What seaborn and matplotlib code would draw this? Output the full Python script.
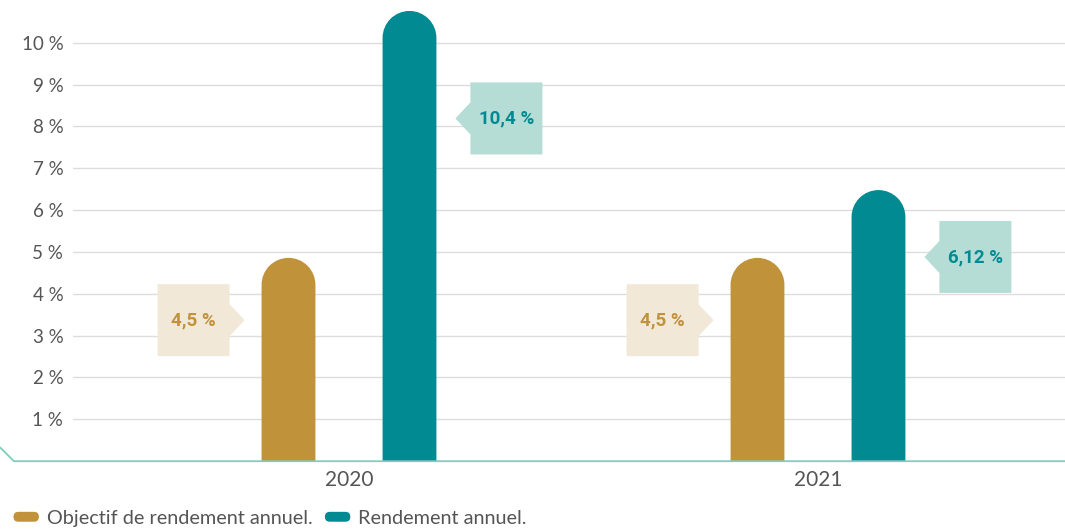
import matplotlib
matplotlib.use("Agg")
import matplotlib.pyplot as plt
import matplotlib.transforms as mtransforms
from matplotlib.patches import FancyBboxPatch, Polygon, Patch, PathPatch
from matplotlib.path import Path
from matplotlib.legend_handler import HandlerPatch
import numpy as np
import pandas as pd
import seaborn as sns

years = ["2020", "2021"]
objectif = [4.5, 4.5]
rendement = [10.4, 6.12]
series = ["Objectif de rendement annuel.", "Rendement annuel."]
labels_obj = ["4,5 %", "4,5 %"]
labels_rend = ["10,4 %", "6,12 %"]
yticks = [1, 2, 3, 4, 5, 6, 7, 8, 9, 10]
ytick_labels = [f"{t} %" for t in yticks]

# where the callout boxes sit (data y of box centre)
label_y_obj = [3.37, 3.37]
label_y_rend = [8.19, 4.88]

gold = "#C09239"
teal = "#028A93"
gold_light = "#F2E8D8"
teal_light = "#B5DDD5"
base_col = "#82CBBF"
txt_col = "#555555"

df = pd.DataFrame({
    "Année": years * 2,
    "Série": [series[0]] * len(years) + [series[1]] * len(years),
    "Valeur": objectif + rendement,
})

sns.set_style("white")
plt.rcParams["font.family"] = ["Lato", "DejaVu Sans"]

fig = plt.figure(figsize=(10.65, 5.30), dpi=100)
ax = fig.add_axes([73 / 1065, 68.8 / 530, 992 / 1065, 461.2 / 530])
sns.barplot(data=df, x="Année", y="Valeur", hue="Série", palette=[gold, teal],
            width=0.516, gap=0.555, saturation=1, legend=False, ax=ax)

ax.set_xlim(-0.5885, 1.5267)
ax.set_ylim(0, 11.02)
ax.set_yticks(yticks)
ax.set_yticklabels(ytick_labels)
ax.set_xlabel("")
ax.set_ylabel("")
ax.tick_params(axis="both", length=0, colors=txt_col)
ax.tick_params(axis="y", pad=7, labelsize=13.5)
ax.tick_params(axis="x", pad=6, labelsize=15)
ax.yaxis.grid(True, color="#DDDDDD", lw=1)
ax.xaxis.grid(False)
ax.set_axisbelow(True)
sns.despine(ax=ax, left=True, bottom=True)

# baseline with small slanted end on the left
ax.plot([-0.0736, -0.0595, 1], [0.03, 0, 0], transform=ax.transAxes,
        clip_on=False, color=base_col, lw=1.3, zorder=4)

# rounded-top bars: one path, straight sides + half circle on top
p0 = ax.transData.transform((0, 0))
p1 = ax.transData.transform((1, 1))
ppx, ppy = p1[0] - p0[0], p1[1] - p0[1]
aspect = ppx / ppy
cap = 15 / ppy
arc = Path.arc(0, 180)
for cont, color in zip(ax.containers, [gold, teal]):
    for bar in cont:
        x, w, h = bar.get_x(), bar.get_width(), bar.get_height()
        rx = w / 2
        ry = rx * aspect
        top = h + cap - ry
        av = arc.vertices.copy()
        av[:, 0] = x + rx + rx * av[:, 0]
        av[:, 1] = top + ry * av[:, 1]
        verts = np.vstack([[(x, 0), (x + w, 0)], av, [(x, 0)]])
        codes = [Path.MOVETO, Path.LINETO] + [Path.LINETO] + list(arc.codes[1:]) + [Path.CLOSEPOLY]
        ax.add_patch(PathPatch(Path(verts, codes), fc=color, ec="none", zorder=3))
        bar.set_visible(False)

# callouts, drawn in pixels next to the bars
ident = mtransforms.IdentityTransform()


def callout(bar, y, text, fc, tc, left_side):
    bx0 = ax.transData.transform((bar.get_x(), 0))[0]
    bx1 = ax.transData.transform((bar.get_x() + bar.get_width(), 0))[0]
    cy = ax.transData.transform((0, y))[1]
    t, b = cy + 36, cy - 36
    if left_side:
        R = bx0 - 32
        L = R - 72
        pts = [(L, b), (R, b), (R, cy - 16), (R + 15, cy), (R, cy + 16), (R, t), (L, t)]
    else:
        L = bx1 + 34
        R = L + 72
        pts = [(L, b), (R, b), (R, t), (L, t), (L, cy + 16), (L - 15, cy), (L, cy - 16)]
    fig.add_artist(Polygon(pts, closed=True, fc=fc, ec="none", transform=ident, zorder=5))
    fig.text((L + R) / 2, cy, text, transform=ident, ha="center", va="center",
             color=tc, fontsize=13.5, fontweight="bold", family=["Roboto", "DejaVu Sans"],
             zorder=6)


for i, bar in enumerate(ax.containers[0]):
    callout(bar, label_y_obj[i], labels_obj[i], gold_light, gold, True)
for i, bar in enumerate(ax.containers[1]):
    callout(bar, label_y_rend[i], labels_rend[i], teal_light, teal, False)


def pill(legend, orig_handle, xdescent, ydescent, width, height, fontsize):
    return FancyBboxPatch((-xdescent, -ydescent), width, height,
                          boxstyle=f"round,pad=0,rounding_size={height / 2}")


handles = [Patch(fc=gold, label=series[0]), Patch(fc=teal, label=series[1])]
ax.legend(handles=handles, loc="lower left", bbox_to_anchor=(0.012, 0.006),
          bbox_transform=fig.transFigure, ncol=2, frameon=False, fontsize=14.3,
          handlelength=1.35, handleheight=0.5, handletextpad=0.35,
          columnspacing=0.6, labelcolor=txt_col, borderaxespad=0, borderpad=0,
          handler_map={Patch: HandlerPatch(patch_func=pill)})

fig.savefig("out.png", dpi=100)
